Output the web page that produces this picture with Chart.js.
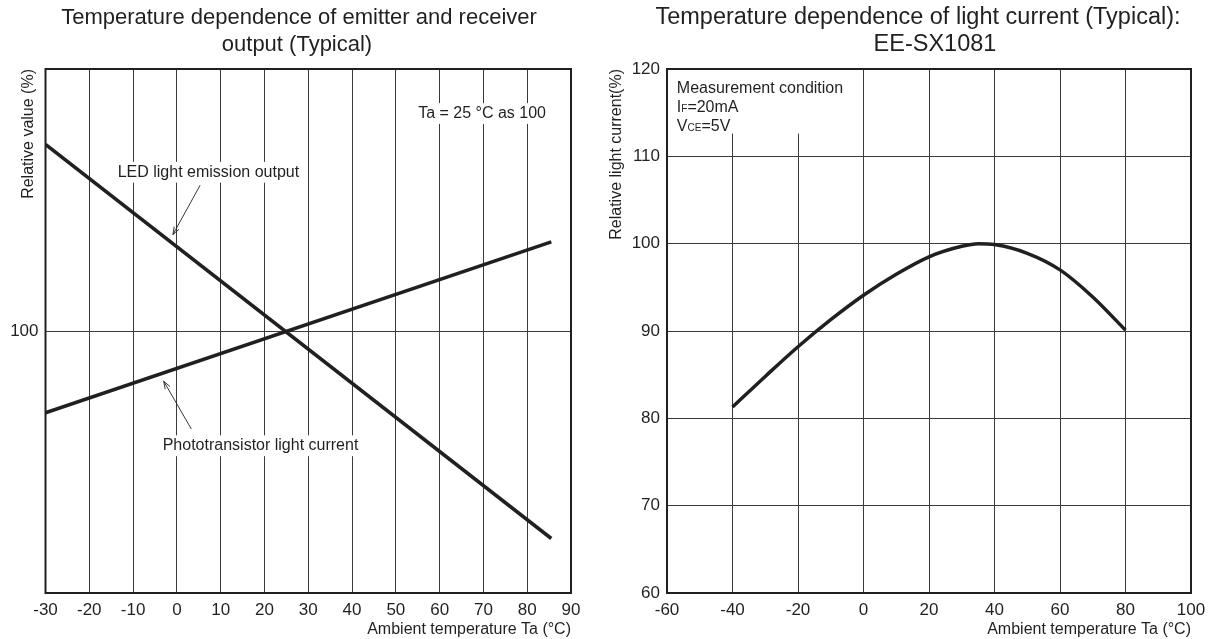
<!DOCTYPE html>
<html>
<head>
<meta charset="utf-8">
<title>Temperature dependence charts</title>
<script src="https://cdn.jsdelivr.net/npm/chart.js@4.4.1/dist/chart.umd.min.js"></script>
<style>
    html, body { margin: 0; padding: 0; background: #fff; }
    #page { position: relative; width: 1217px; height: 639px; overflow: hidden; }
    #leftChart { position: absolute; left: 0; top: 0; }
    #rightChart { position: absolute; left: 600px; top: 0; }
</style>
</head>
<body>
<div id="page">
    <canvas id="leftChart" width="600" height="639"></canvas>
    <canvas id="rightChart" width="617" height="639"></canvas>
</div>
<script>
// Left chart: emitter / receiver output vs. ambient temperature (Ta = 25 °C as 100)
const emitterTemps = [-30, 85.5];
const ledOutput = [135.6, 60.4];
const phototransistorCurrent = [84.4, 117.0];
const leftXTicks = [-30, -20, -10, 0, 10, 20, 30, 40, 50, 60, 70, 80, 90];
const leftYTicks = [100];

// Right chart: light current vs. ambient temperature (EE-SX1081)
const lightTemps = [-40, -30, -20, -10, 0, 10, 20, 30, 35, 40, 50, 60, 70, 80];
const lightCurrent = [81.3, 84.8, 88.2, 91.3, 94.1, 96.5, 98.5, 99.7, 100, 99.9, 98.9, 97.0, 93.9, 90.1];
const rightXTicks = [-60, -40, -20, 0, 20, 40, 60, 80, 100];
const rightYTicks = [60, 70, 80, 90, 100, 110, 120];

const INK = '#231f20';
const GRID = '#3a3a3a';
const FAMILY = '"Liberation Sans", Arial, Helvetica, sans-serif';

Chart.defaults.font.family = FAMILY;
Chart.defaults.color = INK;

/**
 * Titles drawn at fixed centres (two lines each)
 */
const headingPlugin = {
    id: 'heading',
    afterDraw(chart, args, opts) {
        const ctx = chart.ctx;
        ctx.save();
        ctx.fillStyle = INK;
        ctx.font = `${opts.size}px ${FAMILY}`;
        ctx.textAlign = 'center';
        ctx.textBaseline = 'middle';
        opts.lines.forEach(l => ctx.fillText(l.text, l.x, l.y));
        ctx.restore();
    }
};

/**
 * Heavy frame round the plot area
 */
const framePlugin = {
    id: 'frame',
    afterDraw(chart) {
        const {ctx, chartArea: a} = chart;
        ctx.save();
        ctx.strokeStyle = INK;
        ctx.lineWidth = 2;
        ctx.strokeRect(a.left, a.top, a.right - a.left, a.bottom - a.top);
        ctx.restore();
    }
};

/**
 * Text notes, white boxes and pointer arrows in data coordinates
 */
const notesPlugin = {
    id: 'notes',
    beforeDatasetsDraw(chart, args, opts) {
        const {ctx, scales: {x, y}} = chart;
        ctx.save();
        if (opts.box) {
            const b = opts.box;
            const x0 = x.getPixelForValue(b.x0), x1 = x.getPixelForValue(b.x1);
            const y0 = y.getPixelForValue(b.y0), y1 = y.getPixelForValue(b.y1);
            ctx.fillStyle = '#fff';
            ctx.fillRect(x0, y0, x1 - x0, y1 - y0);
        }
        (opts.texts || []).forEach(t => {
            const parts = t.parts;
            const widths = parts.map(p => {
                ctx.font = `${p.sub ? opts.subSize : opts.size}px ${FAMILY}`;
                return ctx.measureText(p.text).width;
            });
            const total = widths.reduce((s, w) => s + w, 0);
            let px = x.getPixelForValue(t.x);
            const py = y.getPixelForValue(t.y);
            if (t.align === 'center') px -= total / 2;
            if (t.clear) {
                ctx.fillStyle = '#fff';
                ctx.fillRect(px - 3, py - opts.size * 0.65, total + 6, opts.size * 1.3);
            }
            ctx.fillStyle = INK;
            ctx.textAlign = 'left';
            ctx.textBaseline = t.align === 'center' ? 'middle' : 'alphabetic';
            parts.forEach((p, i) => {
                ctx.font = `${p.sub ? opts.subSize : opts.size}px ${FAMILY}`;
                ctx.fillText(p.text, px, py);
                px += widths[i];
            });
        });
        ctx.restore();
    },
    afterDatasetsDraw(chart, args, opts) {
        const {ctx, scales: {x, y}} = chart;
        ctx.save();
        ctx.strokeStyle = INK;
        ctx.lineWidth = 0.9;
        (opts.arrows || []).forEach(a => {
            const x0 = x.getPixelForValue(a.from[0]), y0 = y.getPixelForValue(a.from[1]);
            const x1 = x.getPixelForValue(a.to[0]), y1 = y.getPixelForValue(a.to[1]);
            const ang = Math.atan2(y1 - y0, x1 - x0);
            ctx.beginPath();
            ctx.moveTo(x0, y0);
            ctx.lineTo(x1, y1);
            [-0.35, 0.35].forEach(d => {
                ctx.moveTo(x1, y1);
                ctx.lineTo(x1 - 8 * Math.cos(ang + d), y1 - 8 * Math.sin(ang + d));
            });
            ctx.stroke();
        });
        ctx.restore();
    }
};

function axis(min, max, tickValues, fitSize, isX, titleText, titleGap = 0) {
    return {
        type: 'linear',
        min: min,
        max: max,
        afterBuildTicks: (s) => { s.ticks = tickValues.map(v => ({value: v})); },
        afterFit: (s) => { if (isX) s.height = fitSize; else s.width = fitSize; },
        grid: { color: GRID, lineWidth: 1, drawTicks: false },
        border: { display: false },
        ticks: {
            font: { size: 17 },
            color: INK,
            padding: isX ? 7 : 7,
            autoSkip: false,
            maxRotation: 0,
            callback: (v) => String(v)
        },
        title: {
            display: true,
            text: titleText,
            align: 'end',
            padding: { top: titleGap, bottom: 0 },
            color: INK,
            font: { size: 16 }
        }
    };
}

const baseOptions = {
    responsive: false,
    animation: false,
    events: [],
    plugins: { legend: { display: false }, tooltip: { enabled: false } }
};

new Chart(document.getElementById('leftChart'), {
    type: 'line',
    data: {
        datasets: [{
            label: 'LED light emission output',
            data: emitterTemps.map((t, i) => ({x: t, y: ledOutput[i]})),
            borderColor: INK, borderWidth: 3.5, pointRadius: 0, tension: 0
        }, {
            label: 'Phototransistor light current',
            data: emitterTemps.map((t, i) => ({x: t, y: phototransistorCurrent[i]})),
            borderColor: INK, borderWidth: 3.5, pointRadius: 0, tension: 0
        }]
    },
    options: {
        ...baseOptions,
        layout: { padding: { left: 5, top: 69, right: 29, bottom: 0 } },
        scales: {
            x: axis(-30, 90, leftXTicks, 46, true, 'Ambient temperature Ta (°C)'),
            y: axis(50, 150, leftYTicks, 40.5, false, 'Relative value (%)', 14)
        },
        plugins: {
            ...baseOptions.plugins,
            heading: {
                size: 22,
                lines: [
                    {text: 'Temperature dependence of emitter and receiver', x: 299, y: 18},
                    {text: 'output (Typical)', x: 297, y: 45}
                ]
            },
            notes: {
                size: 16,
                subSize: 10,
                texts: [
                    {parts: [{text: 'Ta = 25 °C as 100'}], x: 69.7, y: 141.5, align: 'center', clear: true},
                    {parts: [{text: 'LED light emission output'}], x: 7.2, y: 130.3, align: 'center', clear: true},
                    {parts: [{text: 'Phototransistor light current'}], x: 19.1, y: 78.1, align: 'center', clear: true}
                ],
                arrows: [
                    {from: [5.3, 127.8], to: [-0.9, 118.4]},
                    {from: [3.3, 81.3], to: [-3.0, 90.4]}
                ]
            }
        }
    },
    plugins: [headingPlugin, notesPlugin, framePlugin]
});

new Chart(document.getElementById('rightChart'), {
    type: 'line',
    data: {
        datasets: [{
            label: 'Relative light current',
            data: lightTemps.map((t, i) => ({x: t, y: lightCurrent[i]})),
            borderColor: INK, borderWidth: 3.5, pointRadius: 0,
            cubicInterpolationMode: 'monotone'
        }]
    },
    options: {
        ...baseOptions,
        layout: { padding: { left: 7, top: 69, right: 26, bottom: 0 } },
        scales: {
            x: axis(-60, 100, rightXTicks, 46, true, 'Ambient temperature Ta (°C)'),
            y: axis(60, 120, rightYTicks, 60, false, 'Relative light current(%)')
        },
        plugins: {
            ...baseOptions.plugins,
            heading: {
                size: 23.5,
                lines: [
                    {text: 'Temperature dependence of light current (Typical):', x: 318, y: 18},
                    {text: 'EE-SX1081', x: 335, y: 45}
                ]
            },
            notes: {
                size: 16,
                subSize: 10,
                box: {x0: -60, x1: -5, y0: 120, y1: 112.6},
                texts: [
                    {parts: [{text: 'Measurement condition'}], x: -57, y: 117.25, align: 'left'},
                    {parts: [{text: 'I'}, {text: 'F', sub: true}, {text: '=20mA'}], x: -57, y: 115.1, align: 'left'},
                    {parts: [{text: 'V'}, {text: 'CE', sub: true}, {text: '=5V'}], x: -57, y: 112.95, align: 'left'}
                ]
            }
        }
    },
    plugins: [headingPlugin, notesPlugin, framePlugin]
});
</script>
</body>
</html>
